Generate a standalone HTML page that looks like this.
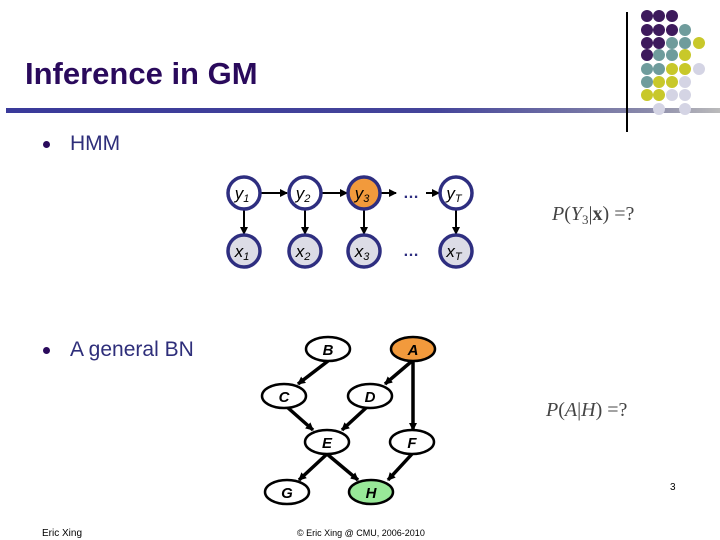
<html><head><style>
body{margin:0;width:720px;height:540px;background:#fff;position:relative;overflow:hidden;font-family:"Liberation Sans",sans-serif}
.t{position:absolute}
.b{position:absolute;width:7px;height:7px;border-radius:50%;background:#2a0a5c}
</style></head><body>
<div class="t" style="left:25px;top:56px;font-size:31px;font-weight:bold;color:#2a0a5c">Inference in GM</div>
<div class="t" style="left:6px;top:108px;width:714px;height:5px;background:linear-gradient(to right,#3a3a9a,#44449a 60%,#8a8aaa 90%,#bbb)"></div>
<div class="t" style="left:626px;top:12px;width:2px;height:120px;background:#000"></div>
<div class="b" style="left:43px;top:141px"></div>
<div class="t" style="left:70px;top:132px;font-size:21px;color:#2e2e7a">HMM</div>
<div class="b" style="left:43px;top:347px"></div>
<div class="t" style="left:70px;top:338px;font-size:21px;color:#2e2e7a">A general BN</div>
<div class="t" style="left:42px;top:528px;font-size:10px">Eric Xing</div>
<div class="t" style="left:297px;top:528px;font-size:9px">© Eric Xing @ CMU, 2006-2010</div>
<div class="t" style="left:670px;top:482px;font-size:10px">3</div>
<svg width="720" height="540" style="position:absolute;left:0;top:0">
<defs><marker id="a" markerWidth="8" markerHeight="8" refX="7" refY="4" orient="auto" markerUnits="userSpaceOnUse"><path d="M0,0L8,4L0,8z"/></marker></defs>
<g id="dots">
<circle cx="647" cy="16" r="6" fill="#3d1a5c"/><circle cx="659" cy="16" r="6" fill="#3d1a5c"/><circle cx="672" cy="16" r="6" fill="#3d1a5c"/>
<circle cx="647" cy="30" r="6" fill="#3d1a5c"/><circle cx="659" cy="30" r="6" fill="#3d1a5c"/><circle cx="672" cy="30" r="6" fill="#3d1a5c"/><circle cx="685" cy="30" r="6" fill="#6f9c9c"/>
<circle cx="647" cy="43" r="6" fill="#3d1a5c"/><circle cx="659" cy="43" r="6" fill="#3d1a5c"/><circle cx="672" cy="43" r="6" fill="#6f9c9c"/><circle cx="685" cy="43" r="6" fill="#6f9c9c"/><circle cx="699" cy="43" r="6" fill="#c8c82a"/>
<circle cx="647" cy="55" r="6" fill="#3d1a5c"/><circle cx="659" cy="55" r="6" fill="#6f9c9c"/><circle cx="672" cy="55" r="6" fill="#6f9c9c"/><circle cx="685" cy="55" r="6" fill="#c8c82a"/>
<circle cx="647" cy="69" r="6" fill="#6f9c9c"/><circle cx="659" cy="69" r="6" fill="#6f9c9c"/><circle cx="672" cy="69" r="6" fill="#c8c82a"/><circle cx="685" cy="69" r="6" fill="#c8c82a"/><circle cx="699" cy="69" r="6" fill="#d4d4e4"/>
<circle cx="647" cy="82" r="6" fill="#6f9c9c"/><circle cx="659" cy="82" r="6" fill="#c8c82a"/><circle cx="672" cy="82" r="6" fill="#c8c82a"/><circle cx="685" cy="82" r="6" fill="#d4d4e4"/>
<circle cx="647" cy="95" r="6" fill="#c8c82a"/><circle cx="659" cy="95" r="6" fill="#c8c82a"/><circle cx="672" cy="95" r="6" fill="#d4d4e4"/><circle cx="685" cy="95" r="6" fill="#d4d4e4"/>
<circle cx="659" cy="109" r="6" fill="#d4d4e4"/><circle cx="685" cy="109" r="6" fill="#d4d4e4"/>
</g>
<g stroke="#000" stroke-width="2" fill="none" marker-end="url(#a)">
<line x1="260" y1="193" x2="287" y2="193"/><line x1="321" y1="193" x2="347" y2="193"/><line x1="380" y1="193" x2="396" y2="193"/><line x1="426" y1="193" x2="439" y2="193"/>
<line x1="244" y1="209" x2="244" y2="234"/><line x1="305" y1="209" x2="305" y2="234"/><line x1="364" y1="209" x2="364" y2="234"/><line x1="456" y1="209" x2="456" y2="234"/>
</g>
<g stroke="#2e2e80" stroke-width="3.5">
<circle cx="244" cy="193" r="16" fill="#fff"/><circle cx="305" cy="193" r="16" fill="#fff"/><circle cx="364" cy="193" r="16" fill="#f29a3c"/><circle cx="456" cy="193" r="16" fill="#fff"/>
<circle cx="244" cy="251" r="16" fill="#dcdce6"/><circle cx="305" cy="251" r="16" fill="#dcdce6"/><circle cx="364" cy="251" r="16" fill="#dcdce6"/><circle cx="456" cy="251" r="16" fill="#dcdce6"/>
</g>
<g font-family="Liberation Sans" font-style="italic" font-size="17" text-anchor="middle">
<text x="242" y="199">y<tspan font-size="11" dy="3">1</tspan></text><text x="303" y="199">y<tspan font-size="11" dy="3">2</tspan></text><text x="362" y="199">y<tspan font-size="11" dy="3">3</tspan></text><text x="454" y="199">y<tspan font-size="11" dy="3">T</tspan></text>
<text x="242" y="257">x<tspan font-size="11" dy="3">1</tspan></text><text x="303" y="257">x<tspan font-size="11" dy="3">2</tspan></text><text x="362" y="257">x<tspan font-size="11" dy="3">3</tspan></text><text x="454" y="257">x<tspan font-size="11" dy="3">T</tspan></text>
</g>
<text x="411" y="198" font-size="16" font-weight="bold" fill="#2e2e80" text-anchor="middle">…</text>
<text x="411" y="256" font-size="16" font-weight="bold" fill="#2e2e80" text-anchor="middle">…</text>
<text x="552" y="220" font-family="Liberation Serif" font-size="20" fill="#444"><tspan font-style="italic">P</tspan>(<tspan font-style="italic">Y</tspan><tspan font-size="13" dy="4">3</tspan><tspan dy="-4">|</tspan><tspan font-weight="bold">x</tspan>) =?</text>
<text x="546" y="416" font-family="Liberation Serif" font-size="20" fill="#444"><tspan font-style="italic">P</tspan>(<tspan font-style="italic">A</tspan>|<tspan font-style="italic">H</tspan>) =?</text>
<g stroke="#000" stroke-width="3.5" fill="none" marker-end="url(#a)">
<line x1="328" y1="361" x2="298" y2="384"/><line x1="412" y1="361" x2="385" y2="384"/><line x1="413" y1="361" x2="413" y2="430"/>
<line x1="287" y1="407" x2="313" y2="430"/><line x1="367" y1="407" x2="342" y2="430"/>
<line x1="327" y1="454" x2="299" y2="480"/><line x1="327" y1="454" x2="358" y2="480"/><line x1="412" y1="454" x2="388" y2="480"/>
</g>
<g stroke="#000" stroke-width="2.5">
<ellipse cx="328" cy="349" rx="22" ry="12" fill="#fff"/><ellipse cx="413" cy="349" rx="22" ry="12" fill="#f29a3c"/>
<ellipse cx="284" cy="396" rx="22" ry="12" fill="#fff"/><ellipse cx="370" cy="396" rx="22" ry="12" fill="#fff"/>
<ellipse cx="327" cy="442" rx="22" ry="12" fill="#fff"/><ellipse cx="412" cy="442" rx="22" ry="12" fill="#fff"/>
<ellipse cx="287" cy="492" rx="22" ry="12" fill="#fff"/><ellipse cx="371" cy="492" rx="22" ry="12" fill="#98e898"/>
</g>
<g font-family="Liberation Sans" font-style="italic" font-weight="bold" font-size="15" text-anchor="middle">
<text x="328" y="355">B</text><text x="413" y="355">A</text><text x="284" y="402">C</text><text x="370" y="402">D</text>
<text x="327" y="448">E</text><text x="412" y="448">F</text><text x="287" y="498">G</text><text x="371" y="498">H</text>
</g>
</svg>
</body></html>
